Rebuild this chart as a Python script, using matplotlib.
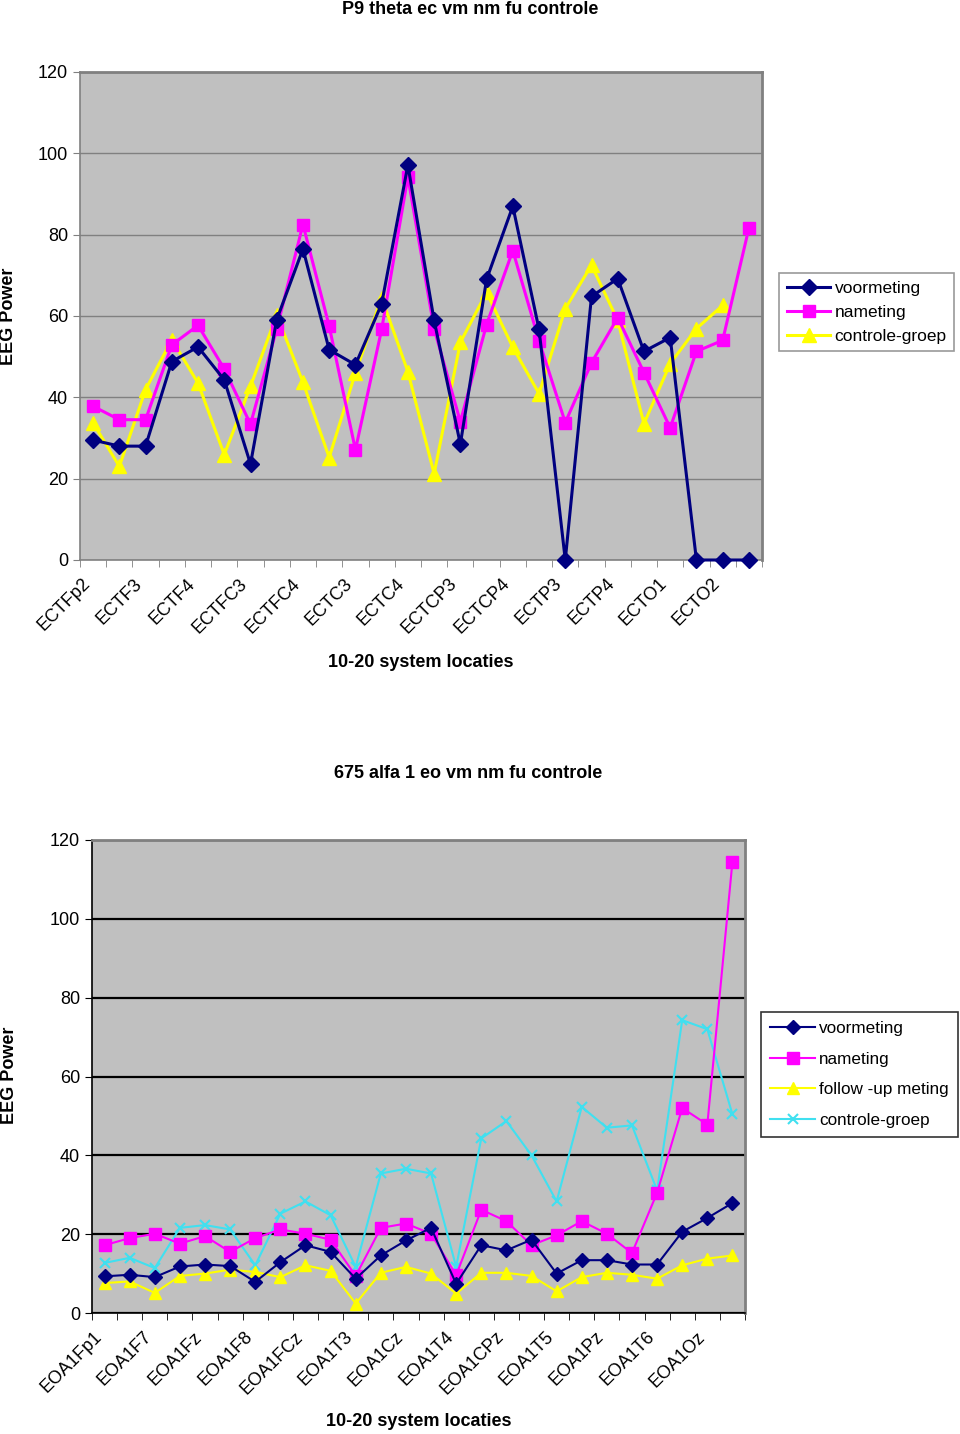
import matplotlib
matplotlib.use("Agg")
import matplotlib.pyplot as plt
import numpy as np

plt.rcParams['font.family'] = ['Liberation Sans', 'DejaVu Sans']

# ---- top chart data ----
top_cats = ['ECTFp2', 'ECTF7', 'ECTF3', 'ECTFz', 'ECTF4', 'ECTF8', 'ECTFC3', 'ECTFCz',
            'ECTFC4', 'ECTT3', 'ECTC3', 'ECTCz', 'ECTC4', 'ECTT4', 'ECTCP3', 'ECTCPz',
            'ECTCP4', 'ECTT5', 'ECTP3', 'ECTPz', 'ECTP4', 'ECTT6', 'ECTO1', 'ECTOz',
            'ECTO2', 'ECTA2']
top_voor = [29.5, 28, 28, 48.8, 52.4, 44.3, 23.6, 59.1, 76.5, 51.7, 48, 63, 97.1,
            58.9, 28.5, 69, 87, 56.7, 0, 64.8, 69.2, 51.3, 54.7, 0, 0, 0]
top_na = [37.8, 34.5, 34.5, 52.9, 57.7, 47, 33.4, 56.8, 82.5, 57.5, 27.1, 56.7, 94.2,
          56.9, 34, 57.9, 76.1, 53.9, 33.8, 48.5, 59.6, 46.1, 32.5, 51.3, 54, 81.6]
top_ctrl = [33.7, 23, 41.9, 54.2, 43.5, 25.9, 42.7, 60.3, 43.7, 25.2, 46, 64.5, 46.3,
            21.2, 53.5, 65.8, 52.3, 40.9, 61.8, 72.5, 58.9, 33.5, 48.3, 56.9, 62.6]

# ---- bottom chart data ----
bot_cats = ['EOA1Fp1', 'EOA1Fp2', 'EOA1F7', 'EOA1F3', 'EOA1Fz', 'EOA1F4', 'EOA1F8',
            'EOA1FC3', 'EOA1FCz', 'EOA1FC4', 'EOA1T3', 'EOA1C3', 'EOA1Cz', 'EOA1C4',
            'EOA1T4', 'EOA1CP3', 'EOA1CPz', 'EOA1CP4', 'EOA1T5', 'EOA1P3', 'EOA1Pz',
            'EOA1P4', 'EOA1T6', 'EOA1O1', 'EOA1Oz', 'EOA1O2']
bot_voor = [9.3, 9.7, 9.1, 11.8, 12.3, 11.9, 7.9, 12.9, 17.2, 15.5, 8.7, 14.6, 18.4,
            21.6, 7.4, 17.2, 15.9, 18.6, 10, 13.4, 13.4, 12.3, 12.3, 20.6, 24.1, 27.9]
bot_na = [17.2, 19, 20.1, 17.6, 19.5, 15.5, 19, 21.2, 20.1, 18.6, 9.4, 21.6, 22.7,
          20.1, 9.6, 26.2, 23.3, 17.2, 19.7, 23.3, 20.1, 15.2, 30.5, 52, 47.8, 114.5]
bot_fu = [7.6, 8, 5.1, 9.4, 10, 11, 10.4, 9.1, 12.1, 10.7, 2.4, 10.2, 11.7, 10, 4.9,
          10.2, 10.2, 9.4, 5.5, 9.1, 10.2, 9.7, 8.7, 12.1, 13.8, 14.6]
bot_ctrl = [12.7, 14, 11.4, 21.6, 22.3, 21.2, 12.1, 25.2, 28.3, 24.8, 11.7, 35.4, 36.6,
            35.4, 11.7, 44.3, 48.7, 40, 28.3, 52.3, 47, 47.6, 31.1, 74.3, 72, 50.4]

NAVY = '#000080'
MAGENTA = '#ff00ff'
YELLOW = '#ffff00'
CYAN = '#40e0f0'


def style_axes(ax, cats, grid_color, spine_lb):
    n = len(cats)
    ax.set_facecolor('#c0c0c0')
    ax.set_xlim(-0.5, n - 0.5)
    ax.set_ylim(0, 120)
    ax.set_yticks(range(0, 121, 20))
    ax.yaxis.grid(True, color=grid_color, linewidth=1)
    ax.set_axisbelow(True)
    # label anchors sit a little left of the category centre (Excel style)
    ax.set_xticks(np.arange(0, n, 2) - 0.45)
    ax.set_xticklabels(cats[::2], rotation=45, ha='right', rotation_mode='anchor',
                       fontsize=13)
    ax.set_xticks(np.arange(-0.5, n, 1), minor=True)
    ax.tick_params(axis='x', which='major', length=0, pad=11)
    ax.tick_params(axis='x', which='minor', length=5, direction='out', color=spine_lb)
    ax.tick_params(axis='y', length=5, direction='out', labelsize=13, color=spine_lb)
    for s in ['top', 'right']:
        ax.spines[s].set_color('#808080')
        ax.spines[s].set_linewidth(2)
    for s in ['left', 'bottom']:
        ax.spines[s].set_color(spine_lb)
        ax.spines[s].set_linewidth(1.2)
    for s in ax.spines.values():
        s.set_zorder(1)


fig = plt.figure(figsize=(9.6, 14.34), dpi=100)

# top chart
ax1 = fig.add_axes([80 / 960, 1 - 560 / 1434, 682 / 960, 488 / 1434])
x1 = np.arange(len(top_cats))
ax1.plot(x1, top_voor, color=NAVY, marker='D', markersize=8, linewidth=2.2,
         label='voormeting', clip_on=False, zorder=5)
ax1.plot(x1, top_na, color=MAGENTA, marker='s', markersize=9, linewidth=2.2,
         label='nameting', clip_on=False, zorder=4)
ax1.plot(x1[:len(top_ctrl)], top_ctrl, color=YELLOW, marker='^', markersize=10,
         linewidth=2.2, label='controle-groep', clip_on=False, zorder=3)
style_axes(ax1, top_cats, '#808080', '#808080')
ax1.set_xlabel('10-20 system locaties', fontsize=13, fontweight='bold', labelpad=12)
fig.text(9 / 960, 1 - 316 / 1434, 'EEG Power', rotation=90, fontsize=13,
         fontweight='bold', ha='center', va='center')
fig.text(470 / 960, 1 - 9 / 1434, 'P9 theta ec vm nm fu controle', fontsize=13,
         fontweight='bold', ha='center', va='center')
leg1 = ax1.legend(loc='upper left', bbox_to_anchor=(779 / 960, 1 - 273 / 1434),
                  bbox_transform=fig.transFigure, fontsize=12.5, frameon=True,
                  fancybox=False, edgecolor='#808080', handlelength=2.5,
                  borderpad=0.45, labelspacing=0.5, handletextpad=0.25,
                  borderaxespad=0)
leg1.get_frame().set_linewidth(1.2)

# bottom chart
ax2 = fig.add_axes([92 / 960, 1 - 1313 / 1434, 653 / 960, 473 / 1434])
x2 = np.arange(len(bot_cats))
ax2.plot(x2, bot_voor, color=NAVY, marker='D', markersize=7, linewidth=1.5,
         label='voormeting', clip_on=False, zorder=6)
ax2.plot(x2, bot_na, color=MAGENTA, marker='s', markersize=8, linewidth=1.5,
         label='nameting', clip_on=False, zorder=5)
ax2.plot(x2, bot_fu, color=YELLOW, marker='^', markersize=8, linewidth=1.5,
         label='follow -up meting', clip_on=False, zorder=4)
ax2.plot(x2, bot_ctrl, color=CYAN, marker='x', markersize=7, markeredgewidth=1.5,
         linewidth=1.5, label='controle-groep', clip_on=False, zorder=3)
style_axes(ax2, bot_cats, 'black', 'black')
ax2.yaxis.grid(True, color='black', linewidth=1.6)
ax2.set_xlabel('10-20 system locaties', fontsize=13, fontweight='bold', labelpad=11)
fig.text(10 / 960, 1 - 1075 / 1434, 'EEG Power', rotation=90, fontsize=13,
         fontweight='bold', ha='center', va='center')
fig.text(468 / 960, 1 - 774 / 1434, '675 alfa 1 eo vm nm fu controle', fontsize=13,
         fontweight='bold', ha='center', va='center')
leg2 = ax2.legend(loc='upper left', bbox_to_anchor=(761 / 960, 1 - 1012 / 1434),
                  bbox_transform=fig.transFigure, fontsize=12.3, frameon=True,
                  fancybox=False, edgecolor='black', handlelength=2.6,
                  borderpad=0.55, labelspacing=0.9, handletextpad=0.25,
                  borderaxespad=0)
leg2.get_frame().set_linewidth(1.2)

fig.savefig('out.png', dpi=100, facecolor='white')
